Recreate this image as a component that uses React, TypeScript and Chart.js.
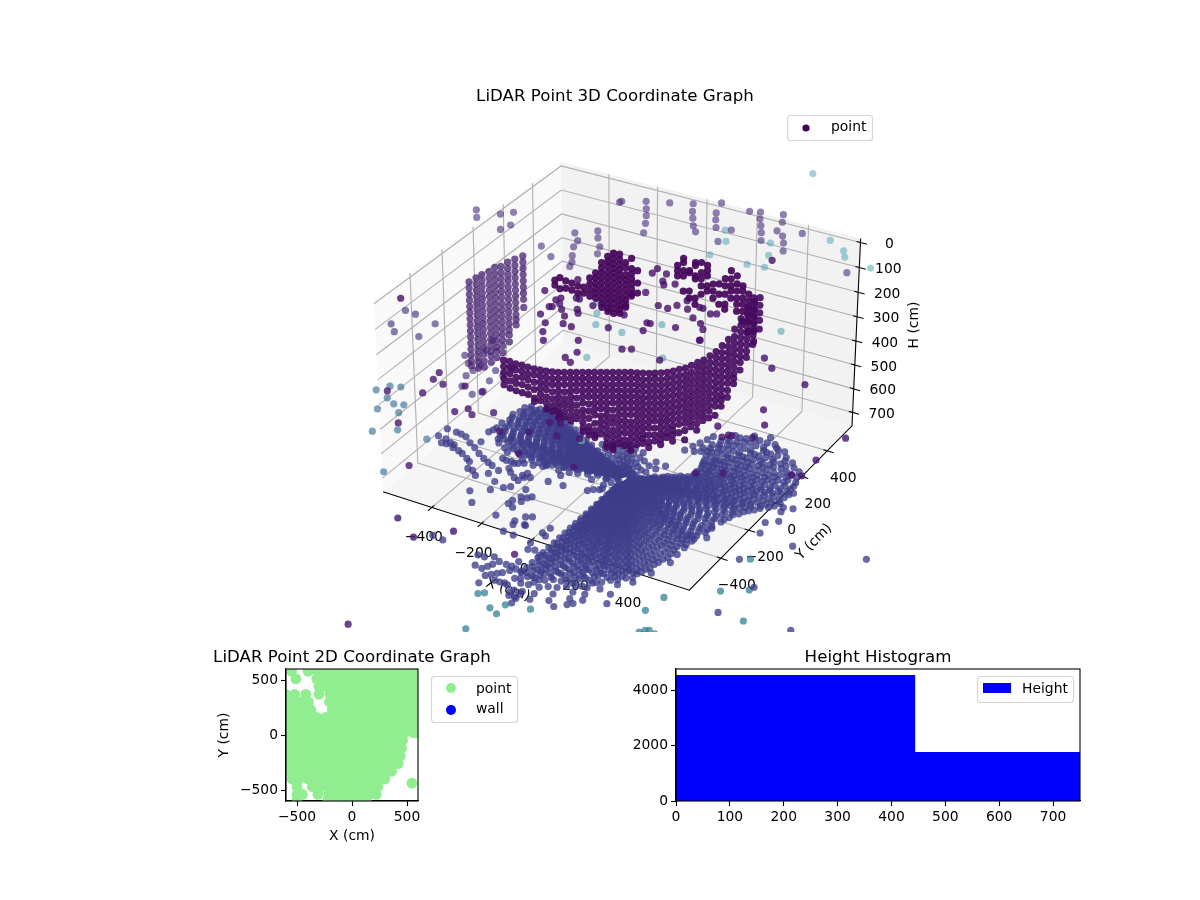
import { useEffect, useRef } from 'react';
import { Chart, registerables } from 'chart.js';

Chart.register(...registerables);

const FONT = "'DejaVu Sans'";

// axis limits and ticks of the 3D view (H axis is inverted)
const xLimits = [-600, 600];
const yLimits = [-620, 600];
const hLimits = [-16, 757];
const xTicks3d = [-400, -200, 0, 200, 400];
const yTicks3d = [-400, -200, 0, 200, 400];
const hTicks3d = [0, 100, 200, 300, 400, 500, 600, 700];

// ground scan: origin of the fan and [azimuth deg, ranges cm]
const groundHeight = 745;
const scanOrigin = [87, -134];
const scanRays: [number, number[]][] = [
  [-90.5, [60, 95, 130, 165, 200, 235, 270, 305, 340, 375, 410, 445, 480, 515, 550, 585, 620, 655, 690, 730, 775]],
  [-89.2, [80, 120, 160, 200, 240, 280, 320, 360, 400, 440, 480, 520, 560, 600, 640, 680, 720]],
  [-88, [70, 110, 150, 190, 225, 265, 300, 340, 380, 420, 460, 500, 540, 580, 620, 660, 700, 745, 790, 825]],
  [-87, [90, 130, 170, 210, 250, 290, 330, 370, 410, 450, 490, 530, 570, 610, 650, 690]],
  [-86, [55, 90, 130, 170, 210, 250, 290, 330, 370, 410, 450, 490, 530, 570, 610, 650, 695, 740, 785, 830, 860]],
  [-85.2, [75, 115, 155, 195, 235, 275, 315, 355, 395, 435, 475, 515, 555, 595, 635, 675, 720]],
  [-84.5, [60, 100, 140, 180, 220, 260, 300, 340, 380, 420, 460, 500, 540, 580, 620, 660, 700]],
  [-83, [50, 90, 125, 165, 205, 245, 285, 325, 365, 405, 445, 485, 525, 565, 610, 650, 695, 740, 780, 815]],
  [-82, [70, 110, 150, 190, 230, 270, 310, 350, 390, 430, 470, 510, 550, 590, 630, 670]],
  [-81, [60, 95, 135, 175, 215, 255, 295, 335, 375, 415, 455, 500, 545, 590, 635, 680, 725]],
  [-80, [80, 120, 160, 200, 240, 280, 320, 360, 400, 440, 480, 520, 560, 600, 640]],
  [-78.7, [45, 85, 125, 165, 205, 245, 285, 325, 365, 405, 445, 485, 525, 565, 605, 645, 680, 720, 760, 800]],
  [-77.5, [65, 105, 145, 185, 225, 265, 305, 345, 385, 425, 465, 505, 545, 585, 625, 670]],
  [-76.5, [60, 100, 140, 180, 220, 260, 300, 340, 380, 420, 460, 500, 540, 580, 620, 660, 705]],
  [-75.3, [80, 120, 160, 200, 240, 280, 320, 360, 400, 440, 480, 520, 560, 600, 640, 680]],
  [-74.2, [50, 90, 130, 170, 210, 250, 290, 330, 370, 410, 450, 490, 530, 570, 610, 650, 690, 730, 770, 805]],
  [-73.3, [70, 110, 150, 190, 230, 270, 310, 350, 390, 430, 470, 510, 550, 590, 630]],
  [-72.5, [60, 100, 140, 180, 220, 260, 300, 340, 380, 420, 460, 500, 540, 590, 640, 690]],
  [-71, [45, 85, 125, 165, 205, 245, 285, 325, 365, 405, 445, 485, 525, 565, 605, 650, 695, 735, 770]],
  [-70, [65, 105, 145, 185, 225, 265, 305, 345, 385, 425, 465, 505, 545, 585, 625, 665]],
  [-69, [55, 95, 135, 175, 215, 255, 295, 335, 375, 415, 455, 495, 535, 580, 620, 660]],
  [-68.2, [75, 115, 155, 195, 235, 275, 315, 355, 395, 435, 475, 515, 555, 600]],
  [-67.5, [40, 80, 120, 160, 200, 240, 280, 320, 360, 400, 440, 480, 520, 560, 605, 655, 695]],
  [-66.2, [60, 100, 140, 180, 220, 260, 300, 340, 380, 420, 460, 500, 540, 580, 625]],
  [-65, [50, 90, 130, 170, 210, 250, 290, 330, 370, 410, 450, 490, 530, 565, 600, 640]],
  [-64, [70, 110, 150, 190, 230, 270, 310, 350, 390, 430, 470, 510, 550, 590, 620]],
  [-62.9, [40, 75, 115, 155, 195, 235, 275, 315, 355, 395, 435, 475, 515, 555, 595, 635, 665]],
  [-61.7, [60, 100, 140, 180, 220, 260, 300, 340, 380, 420, 460, 500, 540, 580, 615]],
  [-60.5, [50, 85, 125, 165, 205, 245, 285, 325, 365, 405, 445, 485, 525, 560, 590, 625]],
  [-59.5, [65, 105, 145, 185, 225, 265, 305, 345, 385, 425, 465, 505, 545, 580]],
  [-58.5, [35, 75, 115, 155, 195, 235, 275, 315, 355, 395, 435, 475, 515, 550, 585, 620, 650]],
  [-57, [55, 95, 135, 175, 215, 255, 295, 335, 375, 415, 455, 495, 535, 570, 600]],
  [-55.5, [45, 85, 125, 160, 200, 240, 280, 320, 360, 400, 440, 480, 520, 560, 590]],
  [-54, [60, 100, 140, 180, 220, 260, 300, 340, 380, 420, 460, 500, 540, 575]],
  [-52.5, [30, 70, 105, 145, 185, 225, 265, 305, 345, 385, 425, 465, 500, 535, 570, 600]],
  [-50.7, [50, 90, 130, 165, 205, 245, 285, 325, 365, 405, 445, 485, 520, 550]],
  [-49, [45, 80, 120, 155, 195, 235, 275, 315, 355, 395, 435, 470, 510, 540]],
  [-47, [30, 60, 100, 135, 175, 215, 255, 295, 335, 375, 415, 450, 490, 525]],
  [-45, [30, 65, 100, 140, 175, 215, 255, 290, 330, 370, 410, 445, 485, 520, 550]],
  [-43, [50, 85, 120, 160, 195, 235, 275, 310, 350, 390, 430, 465, 500]],
  [-41, [40, 80, 115, 155, 190, 230, 265, 305, 340, 380, 415, 450, 480, 510]],
  [-39, [30, 60, 95, 135, 170, 210, 245, 285, 320, 360, 395, 430, 465]],
  [-36.6, [30, 60, 95, 130, 165, 200, 240, 275, 310, 350, 385, 420, 450, 480]],
  [-34.8, [45, 80, 115, 150, 185, 220, 260, 295, 330, 370, 405, 435, 465]],
  [-33, [40, 75, 110, 145, 180, 215, 255, 290, 330, 365, 405, 440]],
  [-31.5, [25, 60, 95, 130, 165, 200, 235, 275, 310, 345, 385, 420, 455]],
  [-29.9, [25, 60, 95, 130, 165, 200, 235, 270, 310, 345, 380, 415, 448]],
  [-27.5, [40, 75, 110, 145, 180, 215, 255, 290, 325, 360, 400, 435]],
  [-25, [35, 70, 105, 140, 175, 210, 245, 280, 315, 350, 385, 420]],
  [-22.7, [20, 50, 85, 125, 160, 195, 230, 265, 300, 335, 370, 405, 435]],
  [-20.4, [25, 55, 90, 120, 155, 190, 225, 255, 290, 325, 360, 395, 425]],
  [-17, [40, 75, 110, 145, 180, 215, 250, 285, 320, 355, 390, 420]],
  [-14, [30, 65, 100, 135, 170, 205, 240, 275, 310, 340, 370, 400]],
  [-11.3, [20, 50, 85, 120, 155, 190, 225, 260, 295, 330, 365, 395, 425]],
  [-8.7, [25, 55, 85, 120, 150, 185, 215, 250, 285, 320, 355, 390, 423]],
  [-6, [40, 70, 100, 135, 165, 200, 230, 265, 300, 335, 370, 400, 430]],
  [-3, [30, 65, 95, 130, 160, 195, 225, 260, 295, 330, 365, 400, 430]],
  [-1, [20, 50, 80, 115, 145, 180, 210, 245, 280, 315, 350, 385, 420, 445]],
  [1.6, [25, 50, 85, 115, 150, 180, 215, 245, 280, 310, 345, 380, 415, 453]],
  [3.3, [40, 70, 100, 135, 165, 200, 230, 265, 295, 330, 360, 395, 430, 465]],
  [5, [30, 60, 90, 120, 155, 185, 215, 250, 280, 315, 345, 380, 410, 445, 480]],
  [7, [45, 75, 105, 135, 170, 200, 235, 265, 300, 330, 365, 395, 430, 460, 495]],
  [8.8, [25, 55, 85, 115, 145, 175, 210, 240, 270, 300, 330, 365, 395, 425, 455, 490, 519]],
  [10.6, [35, 70, 100, 130, 160, 195, 225, 255, 285, 315, 350, 380, 410, 440, 475, 505, 535, 567]],
  [12.8, [50, 85, 115, 145, 175, 210, 240, 270, 300, 335, 365, 395, 425, 455, 490, 520, 550]],
  [15, [30, 60, 90, 125, 155, 185, 215, 250, 280, 310, 345, 375, 405, 440, 470, 505, 540]],
  [17, [45, 80, 115, 150, 185, 215, 250, 285, 315, 350, 385, 415, 450, 485, 520, 555]],
  [19.3, [40, 75, 110, 150, 185, 220, 260, 295, 330, 365, 395, 425, 455, 485, 510, 540, 568]],
  [21, [60, 100, 135, 170, 205, 240, 275, 310, 345, 380, 410, 440, 470, 500, 530, 560]],
  [23, [60, 100, 140, 180, 220, 255, 290, 325, 360, 395, 430, 465, 500, 535, 570]],
  [25, [80, 120, 155, 195, 230, 270, 305, 340, 375, 410, 445, 480, 515, 550, 580]],
  [27.4, [50, 90, 130, 170, 210, 250, 285, 325, 365, 400, 435, 470, 505, 545, 587]],
  [29, [100, 140, 180, 220, 260, 300, 340, 380, 420, 455, 490, 525, 560]],
  [31, [80, 120, 160, 200, 240, 280, 320, 360, 400, 440, 480, 515, 555, 590]],
  [32.6, [130, 170, 215, 255, 295, 335, 375, 415, 455, 495, 535, 575]],
  [34.3, [100, 145, 190, 235, 275, 315, 355, 395, 435, 475, 515, 560, 604]],
  [37, [240, 285, 330, 375, 415, 455, 495, 545, 590]],
  [38.5, [265, 305, 350, 395, 435, 480, 520, 565]],
  [40.2, [250, 295, 340, 385, 425, 470, 510, 550, 592]],
  [42, [285, 325, 365, 410, 450, 490, 530, 570]],
  [44, [270, 315, 355, 400, 440, 485, 530, 580]],
  [46, [300, 340, 380, 425, 465, 510, 555]],
  [47.7, [280, 320, 360, 405, 445, 490, 535, 587]],
  [49.5, [310, 350, 395, 435, 480, 525, 570]],
  [51, [290, 335, 380, 425, 470, 520, 570]],
  [53.3, [300, 345, 390, 435, 480, 530, 575]],
  [55.5, [330, 375, 420, 465, 510, 555]],
  [58.2, [320, 365, 410, 455, 500, 540, 584]],
  [60, [40, 80, 120, 160, 350, 395, 440, 485, 530]],
  [62, [340, 385, 425, 465, 505, 540]],
  [64, [320, 360, 400, 445, 490]],
  [66.4, [300, 340, 380, 420, 450, 485]],
  [72, [280, 320, 355, 390, 420]],
  [75, [35, 75, 115, 150]],
  [90, [40, 85, 130]],
  [100, [30, 65, 105, 145, 180]],
  [110, [25, 60, 95, 130, 165, 200]],
  [117.4, [30, 65, 100, 135, 165, 195, 221]],
  [124, [40, 75, 110, 145, 180, 215]],
  [131, [30, 60, 90, 125, 155, 190, 224]],
  [140, [35, 70, 105, 140, 175, 210, 240]],
  [148.6, [30, 65, 100, 135, 170, 205, 250, 290, 330, 370, 410, 450, 490, 525]],
  [151.2, [35, 70, 105, 140, 175, 210, 245, 280, 310, 345, 380, 415, 450, 480, 515, 544]],
  [152, [50, 85, 120, 155, 190, 225, 260, 295, 330, 365, 400, 435, 470, 505, 540]],
  [153, [25, 55, 90, 125, 160, 195, 230, 265, 300, 335, 370, 405, 440, 470, 500, 530, 560]],
  [154.7, [40, 75, 110, 145, 180, 215, 250, 285, 320, 355, 390, 425, 460, 495, 530, 560, 593]],
  [155.8, [55, 90, 125, 160, 195, 230, 265, 300, 335, 370, 405, 440, 475, 510, 545, 578]],
  [157, [30, 60, 95, 130, 165, 200, 235, 270, 305, 340, 375, 410, 445, 480, 515, 550, 600]],
  [158.5, [50, 85, 120, 155, 190, 225, 260, 295, 330, 365, 400, 435, 470, 505, 540, 575]],
  [160, [45, 80, 115, 150, 185, 220, 255, 290, 325, 360, 395, 430, 465, 500, 535, 565, 588]],
  [161.5, [60, 95, 130, 165, 200, 235, 270, 305, 340, 375, 410, 445, 480, 515, 550]],
  [163, [30, 65, 100, 135, 170, 205, 240, 275, 310, 345, 380, 415, 450, 485, 520, 555, 590]],
  [164.7, [50, 85, 120, 155, 190, 225, 260, 295, 330, 365, 400, 435, 470, 505, 540, 575]],
  [166.4, [40, 75, 110, 145, 180, 215, 250, 285, 320, 355, 390, 425, 460, 495, 530, 570]],
  [168, [55, 90, 125, 160, 195, 230, 265, 300, 335, 370, 405, 440, 475, 510, 550]],
  [170, [30, 60, 95, 130, 165, 200, 235, 270, 305, 340, 375, 410, 445, 480, 515, 545, 575]],
  [172, [50, 85, 120, 155, 190, 225, 260, 295, 330, 365, 400, 435, 470, 505, 545]],
  [173.7, [40, 75, 110, 145, 180, 215, 250, 285, 320, 355, 390, 425, 460, 495, 530, 568]],
  [175.5, [35, 70, 105, 140, 175, 210, 245, 280, 315, 350, 385, 420, 455, 490, 530, 570]],
  [176.5, [55, 90, 125, 160, 195, 230, 265, 300, 335, 370, 405, 440, 480, 520]],
  [177.6, [40, 75, 110, 145, 180, 215, 250, 285, 320, 355, 395, 435, 480, 525, 575]],
  [179, [60, 95, 130, 165, 200, 235, 270, 305, 340, 380, 420, 460, 500]],
  [180, [35, 70, 105, 140, 175, 210, 245, 280, 320, 360, 400, 440, 480, 520]],
  [182.6, [40, 75, 110, 145, 180, 215, 250, 290, 330, 370, 410, 455, 504]],
  [184, [55, 90, 125, 160, 195, 235, 275, 315, 355, 395, 440]],
  [185, [35, 70, 105, 140, 175, 210, 250, 290, 330, 375, 420, 470]],
  [186.5, [50, 85, 125, 160, 200, 240, 285, 330, 380]],
  [187.8, [40, 75, 110, 145, 180, 220, 265, 310, 355, 400, 449]],
  [190, [55, 95, 130, 170, 210, 255, 300, 350]],
  [192, [35, 70, 105, 140, 180, 225, 270, 320, 380]],
  [200, [30, 65, 100, 135, 170, 200]],
  [215, [30, 70, 120]],
  [240, [30, 60, 90]],
];

// loose ground returns [X, Y], all at groundHeight
const groundScatter = [
  [-627, -223], [-593, -228], [-565, -242], [-546, -247], [-511, -273], [-490, -283], [-458, -303], [-439, -316],
  [-626, -166], [-586, -169], [-564, -172], [-539, -180], [-505, -207], [-473, -227], [-439, -253], [-407, -273], [-379, -288], [-357, -298],
  [-592, -258], [-573, -255], [-539, -266], [-419, -358], [-398, -361], [-372, -384], [-340, -350], [-293, -384], [-320, -315],
  [-350, -239], [-332, -244], [-313, -241], [-296, -285], [-298, -247], [-286, -240], [-268, -229], [-234, -225], [-201, -214], [-195, -195],
  [-277, -305], [-249, -327], [-227, -337], [-231, -301], [-223, -281], [-201, -299], [-219, -310], [-134, -290],
  [-335, -479], [-278, -437], [-246, -403], [-228, -385], [-173, -375], [-163, -423], [-141, -419], [-130, -404],
  [-289, -539], [-178, -482], [-153, -495], [-176, -457], [-147, -448], [-176, -566], [-83, -525], [-63, -513], [-102, -564], [-95, -587], [-61, -568], [-475, -182],
  [-101, -639], [-60, -643], [-55, -572], [18, -582], [26, -544], [36, -593], [15, -655], [28, -693], [50, -685], [80, -703],
  [-98, -806], [-73, -805], [-45, -788], [-16, -804], [13, -807], [35, -807], [40, -772], [-73, -863], [-44, -868], [-34, -848], [-26, -829],
  [-12, -898], [2, -883], [15, -868], [28, -855], [42, -832], [55, -814], [78, -815], [-7, -946], [30, -906], [50, -907], [66, -903], [109, -940], [137, -958], [142, -936],
  [-76, -287], [-117, -234], [-135, -183], [-140, -209], [13, -273], [28, -257], [46, -246], [51, -236], [98, -348], [30, -170], [-195, -203],
  [495, -268], [508, -328], [460, -343], [649, -57], [633, 70], [676, -20], [670, -115], [634, -145], [649, -212], [780, -229], [1027, -177], [664, -390], [782, -513], [749, -701], [997, -673], [1173, -622],
  [275, -940], [320, -894], [415, -839], [398, -786], [-292, -781], [-248, -788],
];

// darker returns scattered across the ground
const groundPurple = [
  [-457, -86], [-364, -39], [-334, 56], [-297, 69], [-264, -11], [-319, -182], [-105, -165], [-185, 13], [281, 17], [362, 65], [573, 173], [270, 304], [340, 329],
  [-242, -1360], [331, 762], [626, 493], [602, 306], [606, 187], [-453, -750], [-342, -823], [-246, -724], [5, -741],
];

// teal returns beyond the front edge
const groundTeal = [
  [101, -1051], [137, -1069], [218, -991], [24, -1001], [40, -986], [135, -1011], [97, -1191], [541, -809], [557, -714], [596, -909], [607, -902], [632, -910], [600, -935], [584, -926],
  [695, -371], [776, -535], [842, -703], [698, -588],
];

// ceiling points [X, Y] at ceilingHeight
const ceilingHeight = 30;
const ceilingPoints = [
  [-708, 192], [-675, 142], [-617, 207], [-584, 242], [-541, 152], [-554, 105], [-365, 68], [-296, 17], [-316, 214], [-254, 267], [-277, 167], [-227, 221], [-266, 120], [-188, 166], [-236, 60], [-168, 116], [-213, 19], [-203, -13],
  [-300, 502], [-297, 512], [-222, 556], [-143, 587], [-68, 624], [16, 681], [133, 672], [169, 687], [248, 709], [-192, 504], [-166, 457], [-139, 403], [-109, 336], [-41, 569], [-15, 523], [15, 471], [44, 434],
  [37, 601], [61, 552], [90, 500], [145, 510], [146, 409], [192, 638], [219, 592], [245, 545], [272, 491], [272, 654], [286, 585], [321, 559], [348, 513], [374, 459], [371, 612], [634, 425],
];
const ceilingTeal = [
  [190, 1060], [127, 499], [170, 423], [309, 490], [346, 404], [374, 319], [313, 307], [169, 306], [479, 613], [554, 565], [578, 524], [689, 497],
];

// mid height returns [X, Y] at midHeight
const midHeight = 60;
const midPoints = [
  [-545, -517], [-502, -522], [-535, -619], [-496, -659], [-409, -545], [-408, -646],
  [-210, -676], [-172, -715], [-134, -747], [-135, -787], [-167, -612], [-185, -545], [-132, -708], [-53, -777], [-35, -844], [-71, -710], [-33, -727], [-36, -667], [-55, -878], [-111, -850],
];
const midTeal = [
  [243, -169], [155, -283], [605, -10], [355, -366], [139, -486], [17, -209], [54, -280], [89, -167], [-16, -144], [43, -85],
];
const midMint = [[390, -950]];
const midDark = [
  [-215, -160], [-144, -250], [-149, -198], [-141, -178], [-135, -245], [-124, -215], [-142, -310], [-98, -246], [-66, -281], [-43, -329], [-97, -354], [-9, -333], [-73, -410], [58, -402], [-41, -460],
  [-159, -34], [-96, -152], [-83, -153], [-53, -219], [-37, -241], [-21, -170], [100, -277], [86, 2], [37, 136], [36, 174], [82, 155], [97, 102], [113, 80], [143, 105],
  [168, -58], [205, -60], [222, -26], [235, 21], [265, -31], [294, 1], [307, 0], [102, -174], [194, -183], [206, -182], [209, -236], [292, -164], [310, -76], [350, -97], [376, -129], [403, -198], [347, -22], [365, -11],
  [348, 428], [-606, -453], [95, -473], [110, -542], [79, -522], [211, -381], [238, -365], [353, -383], [401, -200], [640, -198], [691, -245], [790, -496], [836, -578], [755, -710], [767, -689], [713, -658],
];

// left pane returns [X, Y] at sideHeight
const sideHeight = 400;
const sideBlue = [
  [-664, -540], [-638, -494], [-602, -481], [-601, -567], [-560, -589], [-527, -577], [-589, -645], [-513, -630], [-522, -776], [-454, -726], [-346, -973], [-337, -728],
];
const sidePurple = [
  [-516, -477], [-627, -527], [-535, -380], [-488, -392], [-543, -330], [-416, -364], [-345, -369], [-354, -528], [-325, -489], [-293, -516], [-237, -468], [-296, -898], [-477, -687],
];

// vertical returns: [X, Y, heights]
const curvedWall: [number, number, number[]][] = [
  [-351, -217, [350, 375, 400, 425, 450]],
  [-333, -206, [355, 380, 405, 435, 465]],
  [-315, -196, [365, 390, 420, 445, 475]],
  [-297, -185, [370, 395, 420, 450, 483]],
  [-279, -175, [378, 405, 430, 460, 490]],
  [-261, -164, [385, 410, 440, 470, 505, 520]],
  [-243, -153, [391, 415, 440, 465, 490, 516]],
  [-225, -143, [395, 420, 445, 470, 500, 527, 550]],
  [-207, -132, [398, 425, 450, 480, 510, 538, 560]],
  [-189, -122, [400, 425, 450, 475, 500, 525, 549, 570, 585]],
  [-171, -111, [400, 425, 450, 480, 510, 535, 562, 585]],
  [-153, -100, [400, 425, 450, 475, 500, 525, 550, 577, 600]],
  [-135, -90, [400, 425, 450, 475, 505, 535, 565, 591]],
  [-117, -79, [400, 425, 450, 475, 500, 525, 555, 580, 606, 630, 645]],
  [-99, -68, [400, 425, 450, 475, 500, 530, 560, 590, 624, 645, 660]],
  [-81, -58, [400, 425, 450, 475, 500, 525, 550, 575, 610, 641, 660, 670]],
  [-63, -47, [400, 425, 450, 475, 500, 525, 550, 580, 605, 630, 655]],
  [-45, -37, [400, 425, 450, 475, 500, 525, 550, 575, 600, 625, 650, 672, 695, 710]],
  [-27, -26, [400, 425, 450, 475, 500, 525, 555, 585, 610, 640, 665, 690, 710, 720]],
  [-9, -15, [400, 425, 450, 475, 500, 525, 550, 575, 600, 625, 650, 675, 697]],
  [9, -5, [400, 425, 450, 475, 500, 525, 550, 575, 600, 625, 650, 680, 703]],
  [27, 6, [400, 425, 450, 475, 500, 525, 550, 575, 605, 630, 655, 680, 703, 725]],
  [45, 17, [402, 425, 450, 475, 500, 525, 550, 575, 600, 625, 650, 675, 700]],
  [63, 27, [403, 430, 455, 480, 505, 530, 555, 580, 605, 630, 655, 675, 695]],
  [81, 38, [404, 430, 455, 480, 505, 530, 555, 580, 605, 630, 660, 690, 712]],
  [99, 48, [403, 425, 450, 475, 500, 525, 550, 575, 600, 630, 660, 685]],
  [117, 59, [402, 430, 455, 480, 505, 530, 555, 580, 605, 630, 655, 678, 700]],
  [135, 70, [400, 425, 450, 475, 500, 525, 550, 575, 600, 625, 650, 670]],
  [153, 80, [395, 420, 445, 470, 495, 520, 545, 570, 595, 620, 640, 660, 685]],
  [171, 91, [388, 415, 440, 465, 490, 515, 540, 565, 590, 615, 650]],
  [189, 102, [383, 410, 435, 460, 485, 510, 535, 560, 585, 610, 641, 680]],
  [207, 112, [372, 400, 425, 450, 475, 500, 525, 550, 575, 600, 625]],
  [225, 123, [360, 385, 410, 435, 460, 485, 510, 535, 560, 585, 612, 640]],
  [243, 133, [350, 375, 400, 425, 450, 475, 500, 525, 550, 575, 599]],
  [261, 144, [333, 360, 385, 410, 435, 460, 485, 510, 535, 560, 588]],
  [279, 155, [316, 340, 365, 390, 415, 440, 465, 490, 515, 540, 578]],
  [297, 165, [292, 320, 345, 370, 395, 420, 445, 470, 495, 515, 540]],
  [315, 176, [267, 295, 320, 345, 370, 395, 420, 445, 475, 503]],
  [333, 186, [225, 255, 280, 305, 330, 355, 380, 405, 425, 447]],
  [351, 197, [183, 210, 235, 260, 285, 310, 335, 360, 391]],
  [369, 208, [140, 165, 190, 215, 240, 265, 290, 315, 340]],
  [387, 218, [100, 125, 150, 175, 200, 225, 250, 287]],
  [405, 229, [100, 130, 160, 190, 225]],
];

const backCluster: [number, number, number[]][] = [
  [-338, 111, [180, 200]],
  [-323, 120, [170, 215]],
  [-305, 130, [183, 213]],
  [-287, 141, [192, 221]],
  [-269, 152, [204, 233]],
  [-251, 162, [208, 233]],
  [-233, 173, [171, 196, 221, 246]],
  [-215, 183, [150, 171, 192, 213, 233, 254]],
  [-197, 194, [109, 130, 150, 171, 192, 213, 233, 254, 275, 291]],
  [-179, 205, [84, 105, 125, 150, 171, 192, 213, 233, 254, 275, 295, 308]],
  [-161, 215, [71, 92, 113, 133, 150, 171, 192, 213, 233, 254, 275, 295, 316]],
  [-143, 226, [75, 96, 117, 137, 158, 178, 199, 220, 241, 262, 283, 300, 316]],
  [-125, 237, [109, 130, 158, 178, 199, 220, 241, 262, 283, 291]],
  [-107, 247, [92, 133, 154, 175, 196, 216, 237, 245]],
  [-89, 258, [142, 192, 233]],
  [31, 329, [121, 142, 163]],
  [49, 339, [92, 109, 142, 163, 225]],
  [67, 350, [142, 150, 225, 254]],
  [85, 360, [109, 121, 163, 175, 254, 279]],
  [103, 371, [109, 150, 175, 204, 238]],
  [121, 382, [121, 142, 163, 204, 225]],
  [139, 392, [196, 225, 254]],
  [157, 403, [196, 238, 279]],
  [175, 414, [175, 204, 238, 279, 300]],
  [193, 424, [142, 175, 204, 225, 254]],
  [211, 435, [163, 196, 225, 254, 279, 308]],
  [229, 445, [204, 225, 254, 279, 308, 350]],
  [247, 456, [238, 265, 290, 320, 350, 391]],
  [265, 467, [270, 300, 330, 360, 391, 433]],
];

const cornerTower: [number, number, number[]][] = [
  [-560, -98, [150, 175, 200, 225, 250, 275, 300, 325, 350, 375, 400, 425, 450, 475, 495]],
  [-539, -85, [134, 160, 185, 210, 235, 260, 285, 310, 335, 360, 385, 410, 435, 460, 480, 505]],
  [-521, -75, [121, 145, 170, 195, 220, 245, 270, 295, 320, 345, 370, 395, 420, 445, 474, 500]],
  [-500, -62, [109, 135, 160, 185, 210, 235, 260, 285, 310, 335, 360, 385, 410, 435, 454, 480]],
  [-482, -52, [92, 118, 143, 168, 193, 218, 243, 268, 293, 318, 343, 368, 393, 418, 433, 460]],
  [-464, -41, [88, 113, 138, 163, 188, 213, 238, 263, 288, 313, 338, 363, 388, 412, 440]],
  [-443, -29, [71, 96, 121, 146, 171, 196, 221, 246, 271, 296, 321, 346, 367, 395]],
  [-422, -16, [59, 84, 109, 134, 159, 184, 209, 234, 259, 284, 305, 326]],
  [-398, -2, [46, 71, 96, 121, 146, 171, 196, 221, 254]],
];

// 2D plan view: [Y, X values]
const planRows: [number, number[]][] = [
  [580, [-550, -400, -320, -240, -160, -80, 0, 80, 160, 240, 320, 400, 480, 560]],
  [510, [-510, -320, -280, -200, -120, -40, 40, 120, 200, 280, 360, 440, 520, 600]],
  [440, [-300, -240, -160, -80, 0, 80, 160, 240, 320, 400, 480, 550]],
  [370, [-600, -520, -420, -300, -200, -120, -40, 40, 120, 200, 280, 360, 440, 520, 600]],
  [300, [-560, -480, -395, -205, -160, -80, 0, 80, 160, 240, 320, 400, 480, 560]],
  [230, [-600, -520, -440, -375, -180, -120, -40, 40, 120, 200, 280, 360, 440, 520, 600]],
  [160, [-560, -480, -400, -320, -240, -160, -80, 0, 80, 160, 240, 320, 400, 480, 560]],
  [90, [-600, -520, -440, -360, -280, -200, -120, -40, 40, 120, 200, 280, 360, 440, 520, 600]],
  [20, [-560, -480, -400, -320, -240, -160, -80, 0, 80, 160, 240, 320, 400, 480, 560, 590]],
  [-50, [-600, -520, -440, -360, -280, -200, -120, -40, 40, 120, 200, 280, 360, 440, 460]],
  [-120, [-560, -480, -400, -320, -240, -160, -80, 0, 80, 160, 240, 320, 400, 450]],
  [-190, [-600, -520, -440, -360, -280, -200, -120, -40, 40, 120, 200, 280, 360, 440]],
  [-260, [-560, -480, -400, -320, -240, -160, -80, 0, 80, 160, 240, 320, 400, 420]],
  [-330, [-600, -520, -440, -360, -280, -200, -120, -40, 40, 120, 200, 280, 360]],
  [-400, [-545, -480, -400, -320, -240, -160, -80, 0, 80, 160, 240, 300]],
  [-470, [-500, -360, -280, -200, -120, -40, 40, 120, 200, 235]],
  [-540, [-500, -450, -310, -210, -160, -80, 0, 80, 160, 220]],
  [-590, [-500, -220, -140, -60, 20, 100, 130]],
];
const planIslands = [[544, -438]];
const planTicks = [-500, 0, 500];

// height histogram
const binEdges = [0, 444, 750];
const binCounts = [4557, 1772];
const histXTicks = [0, 100, 200, 300, 400, 500, 600, 700];
const histYTicks = [0, 2000, 4000];

const minus = (v: number) => String(v).replace('-', '\u2212');

// camera of the 3D view: elevation 30, azimuth -60
function project(x: number, y: number, h: number) {
  const u = (x - (xLimits[0] + xLimits[1]) / 2) / (xLimits[1] - xLimits[0]);
  const v = (y - (yLimits[0] + yLimits[1]) / 2) / (yLimits[1] - yLimits[0]);
  const w = (((hLimits[0] + hLimits[1]) / 2 - h) / (hLimits[1] - hLimits[0])) * 0.63;
  const depth = 0.433 * u - 0.75 * v + 0.5 * w;
  const f = 1 / (1 - 0.119 * depth);
  return { x: (0.866 * u + 0.5 * v) * f, y: (-0.25 * u + 0.433 * v + 0.866 * w) * f };
}

const plane = (list: number[][], h: number) => list.map(([x, y]) => project(x, y, h));
const columns = (list: [number, number, number[]][]) =>
  list.flatMap(([x, y, hs]) => hs.map((h) => project(x, y, h)));
const rays = (list: [number, number[]][]) =>
  list.flatMap(([az, ranges]) =>
    ranges.map((r) =>
      project(
        scanOrigin[0] + r * Math.cos((az * Math.PI) / 180),
        scanOrigin[1] + r * Math.sin((az * Math.PI) / 180),
        groundHeight,
      ),
    ),
  );

function text(ctx: CanvasRenderingContext2D, str: string, x: number, y: number, size = 13.89, align: CanvasTextAlign = 'center', angle = 0) {
  ctx.save();
  ctx.translate(x, y);
  ctx.rotate((angle * Math.PI) / 180);
  ctx.font = `${size}px ${FONT}`;
  ctx.fillStyle = '#000';
  ctx.textAlign = align;
  ctx.textBaseline = 'middle';
  ctx.fillText(str, 0, 0);
  ctx.restore();
}

function legendBox(ctx: CanvasRenderingContext2D, x: number, y: number, w: number, h: number) {
  ctx.save();
  ctx.beginPath();
  ctx.roundRect(x + 0.5, y + 0.5, w, h, 3);
  ctx.fillStyle = 'rgba(255,255,255,0.8)';
  ctx.strokeStyle = '#d5d5d5';
  ctx.lineWidth = 1.1;
  ctx.fill();
  ctx.stroke();
  ctx.restore();
}

const axes3dPlugin = {
  id: 'axes3d',
  beforeDatasetsDraw(chart: any) {
    const { ctx, scales } = chart;
    const P = (x: number, y: number, h: number) => {
      const p = project(x, y, h);
      return [scales.x.getPixelForValue(p.x), scales.y.getPixelForValue(p.y)];
    };
    const [x0, x1] = xLimits;
    const [y0, y1] = yLimits;
    const [hTop, hBottom] = hLimits;
    const poly = (pts: number[][], fill: string) => {
      ctx.beginPath();
      pts.forEach((p, i) => (i ? ctx.lineTo(p[0], p[1]) : ctx.moveTo(p[0], p[1])));
      ctx.closePath();
      ctx.fillStyle = fill;
      ctx.fill();
    };
    const line = (pts: number[][], color: string) => {
      ctx.beginPath();
      pts.forEach((p, i) => (i ? ctx.lineTo(p[0], p[1]) : ctx.moveTo(p[0], p[1])));
      ctx.strokeStyle = color;
      ctx.lineWidth = 1.1;
      ctx.stroke();
    };
    ctx.save();
    poly([P(x0, y0, hBottom), P(x0, y1, hBottom), P(x0, y1, hTop), P(x0, y0, hTop)], '#f9f9f9');
    poly([P(x0, y1, hBottom), P(x1, y1, hBottom), P(x1, y1, hTop), P(x0, y1, hTop)], '#f2f2f2');
    poly([P(x0, y0, hBottom), P(x1, y0, hBottom), P(x1, y1, hBottom), P(x0, y1, hBottom)], '#f5f5f5');

    const grid = '#b0b0b0';
    xTicks3d.forEach((x) => line([P(x, y0, hBottom), P(x, y1, hBottom), P(x, y1, hTop)], grid));
    yTicks3d.forEach((y) => line([P(x1, y, hBottom), P(x0, y, hBottom), P(x0, y, hTop)], grid));
    hTicks3d.forEach((h) => line([P(x0, y0, h), P(x0, y1, h), P(x1, y1, h)], grid));

    line([P(x0, y0, hBottom), P(x1, y0, hBottom), P(x1, y1, hBottom), P(x1, y1, hTop)], '#000');

    xTicks3d.forEach((x) => {
      line([P(x, y0 + 15, hBottom), P(x, y0 - 25, hBottom)], '#000');
      const [px, py] = P(x, y0, hBottom);
      text(ctx, minus(x), px - 8, py + 30);
    });
    yTicks3d.forEach((y) => {
      line([P(x1 - 15, y, hBottom), P(x1 + 25, y, hBottom)], '#000');
      const [px, py] = P(x1, y, hBottom);
      text(ctx, minus(y), px + 16, py + 27.5);
    });
    hTicks3d.forEach((h) => {
      line([P(x1 - 15, y1, h), P(x1 + 25, y1, h)], '#000');
      const [px, py] = P(x1, y1, h);
      text(ctx, minus(h), px + 29, py + 2);
    });
    text(ctx, 'X (cm)', 508, 590, 13.89, 'center', 18);
    text(ctx, 'Y (cm)', 814, 542, 13.89, 'center', -45);
    text(ctx, 'H (cm)', 914, 325, 13.89, 'center', -90);
    ctx.restore();
  },
  afterDraw(chart: any) {
    const { ctx } = chart;
    text(ctx, 'LiDAR Point 3D Coordinate Graph', 615, 96.5, 16.67);
    legendBox(ctx, 787, 115, 85, 25);
    ctx.save();
    ctx.beginPath();
    ctx.arc(806, 128, 3.6, 0, Math.PI * 2);
    ctx.fillStyle = '#440154';
    ctx.fill();
    ctx.restore();
    text(ctx, 'point', 831, 127, 13.89, 'left');
  },
};

const framePlugin = {
  id: 'frame',
  afterDatasetsDraw(chart: any) {
    const { ctx, chartArea: a } = chart;
    ctx.save();
    ctx.strokeStyle = '#000';
    ctx.lineWidth = 1.1;
    ctx.strokeRect(a.left, a.top, a.right - a.left, a.bottom - a.top);
    ctx.restore();
  },
};

const axisOptions = (ticks: number[], min: number, max: number, size: number, title?: string) => ({
  type: 'linear' as const,
  min,
  max,
  afterBuildTicks: (scale: any) => {
    scale.ticks = ticks.map((value) => ({ value }));
  },
  afterFit: (scale: any) => {
    if (scale.isHorizontal()) scale.height = size;
    else scale.width = size;
  },
  grid: { drawOnChartArea: false, drawTicks: true, tickLength: 5, color: '#000', tickWidth: 1.1 },
  border: { display: true, color: '#000', width: 1.1 },
  ticks: {
    color: '#000',
    padding: 3,
    maxRotation: 0,
    autoSkip: false,
    font: { family: FONT, size: 13.89 },
    callback: (v: any) => minus(Number(v)),
  },
  title: title
    ? { display: true, text: title, color: '#000', padding: 0, font: { family: FONT, size: 13.89 } }
    : { display: false },
});

function useChart(build: (canvas: HTMLCanvasElement) => Chart) {
  const ref = useRef<HTMLCanvasElement>(null);
  useEffect(() => {
    if (!ref.current) return;
    const chart = build(ref.current);
    return () => chart.destroy();
  }, []);
  return ref;
}

function View3D() {
  const ref = useChart((canvas) => {
    const group = (label: string, data: { x: number; y: number }[], color: string) => ({
      label,
      data,
      backgroundColor: color,
      borderWidth: 0,
      pointRadius: 3.6,
    });
    return new Chart(canvas, {
      type: 'scatter',
      data: {
        // first dataset is painted last
        datasets: [
          group('wall', columns(curvedWall), 'rgba(68,10,95,0.9)'),
          group('back', columns(backCluster), 'rgba(68,5,90,0.92)'),
          group('dark', plane(midDark, midHeight), 'rgba(70,15,105,0.8)'),
          group('groundPurple', plane(groundPurple, groundHeight), 'rgba(72,25,115,0.82)'),
          group('sidePurple', plane(sidePurple, sideHeight), 'rgba(72,25,115,0.8)'),
          group('mint', plane(midMint, midHeight), 'rgba(110,210,170,0.6)'),
          group('ground', rays(scanRays), 'rgba(62,62,138,0.78)'),
          group('groundLoose', plane(groundScatter, groundHeight), 'rgba(62,62,138,0.78)'),
          group('tower', columns(cornerTower), 'rgba(72,35,115,0.76)'),
          group('mid', plane(midPoints, midHeight), 'rgba(71,50,128,0.65)'),
          group('ceiling', plane(ceilingPoints, ceilingHeight), 'rgba(71,45,123,0.6)'),
          group('sideBlue', plane(sideBlue, sideHeight), 'rgba(50,105,145,0.62)'),
          group('groundTeal', plane(groundTeal, groundHeight), 'rgba(42,125,145,0.72)'),
          group('ceilingTeal', plane(ceilingTeal, ceilingHeight), 'rgba(55,150,170,0.45)'),
          group('midTeal', plane(midTeal, midHeight), 'rgba(55,150,170,0.5)'),
        ],
      },
      options: {
        responsive: false,
        animation: false,
        layout: { padding: 0 },
        plugins: { legend: { display: false }, tooltip: { enabled: false } },
        scales: {
          x: { type: 'linear', display: false, min: -622 / 352, max: (1200 - 622) / 352 },
          y: { type: 'linear', display: false, min: -(636 - 365.7) / 352, max: 365.7 / 352 },
        },
      },
      plugins: [axes3dPlugin],
    });
  });
  return <canvas ref={ref} width={1200} height={636} style={{ position: 'absolute', left: 0, top: 0 }} />;
}

function PlanView() {
  const ref = useChart((canvas) =>
    new Chart(canvas, {
      type: 'scatter',
      data: {
        datasets: [
          {
            label: 'point',
            data: [
              ...planRows.flatMap(([y, xs]) => xs.map((x) => ({ x, y }))),
              ...planIslands.map(([x, y]) => ({ x, y })),
            ],
            backgroundColor: '#90ee90',
            borderWidth: 0,
            pointRadius: 5.4,
          },
          { label: 'wall', data: [], backgroundColor: '#0000ff' },
        ],
      },
      options: {
        responsive: false,
        animation: false,
        layout: { padding: { left: 26, top: 29, right: 112, bottom: 5 } },
        plugins: { legend: { display: false }, tooltip: { enabled: false } },
        scales: {
          x: axisOptions(planTicks, -600, 600, 44, 'X (cm)'),
          y: axisOptions(planTicks, -600, 600, 70, 'Y (cm)'),
        },
      },
      plugins: [
        framePlugin,
        {
          id: 'planText',
          afterDraw(chart: any) {
            const { ctx } = chart;
            text(ctx, 'LiDAR Point 2D Coordinate Graph', 162, 17.5, 16.67);
            legendBox(ctx, 241, 36, 86, 46);
            ctx.save();
            ctx.fillStyle = '#90ee90';
            ctx.beginPath();
            ctx.arc(261, 48, 5, 0, Math.PI * 2);
            ctx.fill();
            ctx.fillStyle = '#0000ff';
            ctx.beginPath();
            ctx.arc(261, 70, 5, 0, Math.PI * 2);
            ctx.fill();
            ctx.restore();
            text(ctx, 'point', 286, 49, 13.89, 'left');
            text(ctx, 'wall', 286, 69, 13.89, 'left');
          },
        },
      ],
    }),
  );
  return <canvas ref={ref} width={340} height={210} style={{ position: 'absolute', left: 190, top: 640 }} />;
}

function HeightHistogram() {
  const ref = useChart((canvas) =>
    new Chart(canvas, {
      type: 'scatter',
      data: {
        datasets: [
          {
            label: 'Height',
            data: binCounts.flatMap((count, i) => [
              { x: binEdges[i], y: count },
              { x: binEdges[i + 1], y: count },
            ]),
            showLine: true,
            fill: 'origin',
            backgroundColor: '#0000ff',
            borderWidth: 0,
            pointRadius: 0,
          },
        ],
      },
      options: {
        responsive: false,
        animation: false,
        layout: { padding: { left: 6, top: 29, right: 40, bottom: 5 } },
        plugins: { legend: { display: false }, tooltip: { enabled: false } },
        scales: {
          x: axisOptions(histXTicks, 0, 750, 44),
          y: axisOptions(histYTicks, 0, 4774, 50),
        },
      },
      plugins: [
        framePlugin,
        {
          id: 'histText',
          afterDraw(chart: any) {
            const { ctx } = chart;
            text(ctx, 'Height Histogram', 258, 17.5, 16.67);
            legendBox(ctx, 357, 36, 96, 26);
            ctx.save();
            ctx.fillStyle = '#0000ff';
            ctx.fillRect(363, 43, 28, 10);
            ctx.restore();
            text(ctx, 'Height', 402, 49, 13.89, 'left');
          },
        },
      ],
    }),
  );
  return <canvas ref={ref} width={500} height={210} style={{ position: 'absolute', left: 620, top: 640 }} />;
}

export default function App() {
  return (
    <div style={{ position: 'fixed', left: 0, top: 0, width: 1200, height: 900, background: '#fff' }}>
      <View3D />
      <PlanView />
      <HeightHistogram />
    </div>
  );
}
